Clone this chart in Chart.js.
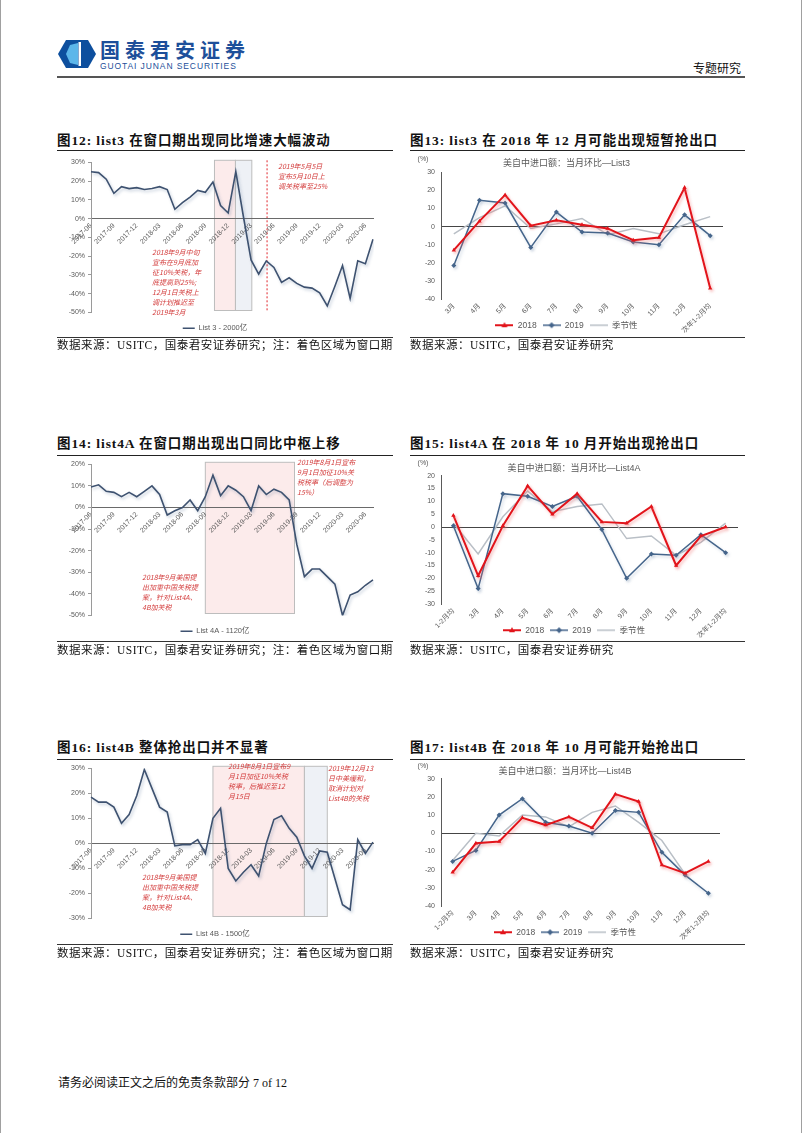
<!DOCTYPE html>
<html lang="zh-CN">
<head>
<meta charset="utf-8">
<script src="https://cdn.jsdelivr.net/npm/chart.js@4.4.1/dist/chart.umd.min.js"></script>
<style>
  html, body { margin: 0; padding: 0; background: #fff; }
  body { width: 802px; height: 1133px; position: relative; overflow: hidden;
         font-family: 'Liberation Serif', 'Noto Sans CJK SC', serif; color: #111; }
  .tepi { position: absolute; left: 0; top: 0; width: 800px; height: 1133px;
          border-left: 1px solid #a0a0a0; border-right: 1px solid #a0a0a0; }
  .abs { position: absolute; }
  .judul { font-size: 13.5px; font-weight: bold; line-height: 16px; white-space: nowrap; letter-spacing: 0.9px; }
  .garis-tebal { height: 0; border-top: 1.5px solid #222; }
  .garis-tipis { height: 0; border-top: 1px solid #333; }
  .sumber { font-size: 11.5px; line-height: 14px; white-space: nowrap; letter-spacing: 0.5px; }
  .catatan { font-family: 'Noto Sans CJK SC', sans-serif; font-size: 7px; line-height: 10px;
             color: #d33b3b; font-style: italic; white-space: nowrap; }
  canvas { position: absolute; }
</style>
</head>
<body>
<div class="tepi"></div>

<!-- kop halaman -->
<svg class="abs" style="left:57px;top:39px" width="40" height="30" viewBox="0 0 40 30">
  <polygon points="9,1 31,1 39,15 31,29 9,29 1,15" fill="#0d4f9e"/>
  <polygon points="13,6 21,4 21,26 13,24 9,15" fill="#5cb6ea"/>
  <rect x="21.5" y="3" width="2.5" height="24" fill="#fff"/>
</svg>
<div class="abs" style="left:100px;top:38px;font-family:'Noto Sans CJK SC',sans-serif;font-weight:bold;font-size:20px;letter-spacing:5px;color:#1d4f9a;line-height:24px;">国泰君安证券</div>
<div class="abs" style="left:100px;top:61px;font-family:'Liberation Sans',sans-serif;font-size:8.5px;letter-spacing:0.9px;color:#1d4f9a;line-height:10px;">GUOTAI JUNAN SECURITIES</div>
<div class="abs" style="left:693px;top:60px;font-family:'Noto Sans CJK SC',sans-serif;font-size:12px;line-height:16px;">专题研究</div>
<div class="abs" style="left:57px;top:76px;width:688px;height:0;border-top:2px solid #555;"></div>

<!-- baris 1 -->
<div class="abs judul" style="left:57px;top:133px">图12: list3 在窗口期出现同比增速大幅波动</div>
<div class="abs judul" style="left:410px;top:133px">图13: list3 在 2018 年 12 月可能出现短暂抢出口</div>
<div class="abs garis-tebal" style="left:57px;top:150px;width:336px"></div>
<div class="abs garis-tebal" style="left:410px;top:150px;width:335px"></div>
<canvas id="chartList3Yoy" width="336" height="189" style="left:57px;top:153px"></canvas>
<canvas id="chartList3Mom" width="335" height="186" style="left:410px;top:153px"></canvas>
<div class="abs catatan" style="left:278px;top:161px">2019年5月5日<br>宣布5月10日上<br>调关税率至25%</div>
<div class="abs catatan" style="left:152px;top:247px">2018年9月中旬<br>宣布在9月底加<br>征10%关税，年<br>底提高到25%;<br>12月1日关税上<br>调计划推迟至<br>2019年3月</div>
<div class="abs garis-tipis" style="left:57px;top:337px;width:336px"></div>
<div class="abs garis-tipis" style="left:410px;top:337px;width:335px"></div>
<div class="abs sumber" style="left:57px;top:338px">数据来源：USITC，国泰君安证券研究；注：着色区域为窗口期</div>
<div class="abs sumber" style="left:410px;top:338px">数据来源：USITC，国泰君安证券研究</div>

<!-- baris 2 -->
<div class="abs judul" style="left:57px;top:436px">图14: list4A 在窗口期出现出口同比中枢上移</div>
<div class="abs judul" style="left:410px;top:436px">图15: list4A 在 2018 年 10 月开始出现抢出口</div>
<div class="abs garis-tebal" style="left:57px;top:455px;width:336px"></div>
<div class="abs garis-tebal" style="left:410px;top:455px;width:335px"></div>
<canvas id="chartList4aYoy" width="336" height="188" style="left:57px;top:457px"></canvas>
<canvas id="chartList4aMom" width="335" height="186" style="left:410px;top:458px"></canvas>
<div class="abs catatan" style="left:297px;top:457px">2019年8月1日宣布<br>9月1日加征10%关<br>税税率（后调整为<br>15%）</div>
<div class="abs catatan" style="left:142px;top:572px">2018年9月美国提<br>出加重中国关税提<br>案，针对List4A、<br>4B加关税</div>
<div class="abs garis-tipis" style="left:57px;top:641px;width:336px"></div>
<div class="abs garis-tipis" style="left:410px;top:641px;width:335px"></div>
<div class="abs sumber" style="left:57px;top:643px">数据来源：USITC，国泰君安证券研究；注：着色区域为窗口期</div>
<div class="abs sumber" style="left:410px;top:643px">数据来源：USITC，国泰君安证券研究</div>

<!-- baris 3 -->
<div class="abs judul" style="left:57px;top:740px">图16: list4B 整体抢出口并不显著</div>
<div class="abs judul" style="left:410px;top:740px">图17: list4B 在 2018 年 10 月可能开始抢出口</div>
<div class="abs garis-tebal" style="left:57px;top:759px;width:336px"></div>
<div class="abs garis-tebal" style="left:410px;top:759px;width:335px"></div>
<canvas id="chartList4bYoy" width="336" height="188" style="left:57px;top:760px"></canvas>
<canvas id="chartList4bMom" width="335" height="185" style="left:410px;top:761px"></canvas>
<div class="abs catatan" style="left:228px;top:761px">2019年8月1日宣布9<br>月1日加征10%关税<br>税率，后推迟至12<br>月15日</div>
<div class="abs catatan" style="left:328px;top:763px">2019年12月13<br>日中美缓和，<br>取消计划对<br>List4B的关税</div>
<div class="abs catatan" style="left:142px;top:872px">2018年9月美国提<br>出加重中国关税提<br>案，针对List4A、<br>4B加关税</div>
<div class="abs garis-tipis" style="left:57px;top:944px;width:336px"></div>
<div class="abs garis-tipis" style="left:410px;top:944px;width:335px"></div>
<div class="abs sumber" style="left:57px;top:946px">数据来源：USITC，国泰君安证券研究；注：着色区域为窗口期</div>
<div class="abs sumber" style="left:410px;top:946px">数据来源：USITC，国泰君安证券研究</div>

<div class="abs" style="left:58px;top:1075px;font-size:12px;line-height:16px;">请务必阅读正文之后的免责条款部分 7 of 12</div>

<script>
// data bulanan, 2017-06 sampai 2020-07
const bulanSeri = [
  '2017-06', '2017-07', '2017-08', '2017-09', '2017-10', '2017-11', '2017-12',
  '2018-01', '2018-02', '2018-03', '2018-04', '2018-05', '2018-06', '2018-07', '2018-08', '2018-09', '2018-10', '2018-11', '2018-12',
  '2019-01', '2019-02', '2019-03', '2019-04', '2019-05', '2019-06', '2019-07', '2019-08', '2019-09', '2019-10', '2019-11', '2019-12',
  '2020-01', '2020-02', '2020-03', '2020-04', '2020-05', '2020-06', '2020-07'
];
// yoy (%) tiap list
const list3Yoy  = [25, 24.5, 21, 13.5, 17, 16, 16.5, 15.5, 16, 17, 15.5, 5, 8.5, 11.5, 15, 14, 19.5, 7, 3, 25, 1, -22, -29.5, -22.5, -26, -34, -31.5, -34.5, -36.5, -37, -39.5, -46.5, -36, -25, -42.5, -22.5, -24, -11];
const list4aYoy = [9.5, 10.5, 7.5, 7, 5, 7, 5, 7.5, 10, 6, -3.5, -1.5, 0, 3.5, -1.5, 5, 15, 5.5, 10, 8, 5, -1.5, 10, 6, 8.5, 7, 3.5, -17, -32, -28.5, -28.5, -32, -35.5, -50, -40.5, -39, -36, -33.5];
const list4bYoy = [18.5, 16.5, 16.5, 14.5, 8, 11.5, 19, 29.5, 22, 14.5, 12.5, -1, -0.5, -0.5, 1.5, -4, 10, 14, -10, -15, -11.5, -8.5, -13, 0, 9.5, 11, 6, 2.5, -5, -10, -3, -3.5, -14, -24.5, -26.5, 1.5, -4, 0.5];

// periode jendela (indeks bulan, boleh pecahan)
const jendelaList3Merah = [16.2, 18.95];
const jendelaList3Biru  = [18.95, 21.1];
const garisList3Tarif   = 23.1;
const jendelaList4aMerah = [15, 26.7];
const jendelaList4bMerah = [16, 28];
const jendelaList4bBiru  = [28, 31];

// data环比 bulanan
const bulanList3 = ['3月', '4月', '5月', '6月', '7月', '8月', '9月', '10月', '11月', '12月', '次年1-2月均'];
const list3Th2018   = [-13, 3, 17.5, 0.5, 3.5, 1, -1, -7.5, -6, 21.5, -34];
const list3Th2019   = [-21.5, 14.5, 13, -11.5, 8, -3, -3.5, -8.5, -10, 6.5, -5];
const list3Musiman  = [-4, 5, 11.5, -1, 1.5, 4.5, -4.5, -1, -4, 1, 5.5];

const bulanList4 = ['1-2月均', '3月', '4月', '5月', '6月', '7月', '8月', '9月', '10月', '11月', '12月', '次年1-2月均'];
const list4aTh2018  = [4.5, -19, 0.5, 16, 5, 13, 2, 1.5, 8, -15, -3.5, 0];
const list4aTh2019  = [0.5, -24, 13, 12, 8, 12, -1, -20, -10.5, -11, -3, -10];
const list4aMusiman = [1.5, -10.5, 4, 14, 6, 8, 9, -4.5, -3.5, -11, -6, 1.5];
const list4bTh2018  = [-21.5, -5.5, -4.5, 8.5, 4.5, 9, 3, 21.5, 17.5, -17.5, -22, -15.5];
const list4bTh2019  = [-15.5, -9.5, 10, 19, 6, 4, 0, 12.5, 11.5, -10.5, -23, -33];
const list4bMusiman = [-15, 0, -1.5, 10, 9, 3.5, 11.5, 15, 6, -4, -22.5, null];

Chart.defaults.font.family = "'Liberation Sans', 'Noto Sans CJK SC', sans-serif";
Chart.defaults.color = '#595959';

const warnaSeri   = '#3e5270';
const warnaMerah  = '#e2141b';
const warnaBiru   = '#45658b';
const warnaAbu    = '#b9bfc6';

// bayangan tipis di garis kayak efek excel
const pluginBayangan = {
  id: 'bayangan',
  beforeDatasetDraw(chart, args) {
    const ds = chart.data.datasets[args.index];
    if (!ds.warnaBayangan) return;
    const ctx = chart.ctx;
    ctx.save();
    ctx.shadowColor = ds.warnaBayangan;
    ctx.shadowBlur = 3;
    ctx.shadowOffsetX = 1.5;
    ctx.shadowOffsetY = 2;
  },
  afterDatasetDraw(chart, args) {
    if (chart.data.datasets[args.index].warnaBayangan) chart.ctx.restore();
  }
};

// kotak warna periode jendela + garis putus
const pluginJendela = {
  id: 'jendela',
  beforeDraw(chart, args, opts) {
    const { ctx, chartArea: area, scales: { x } } = chart;
    (opts.kotak || []).forEach(k => {
      const x0 = x.getPixelForValue(k.rentang[0]);
      const x1 = x.getPixelForValue(k.rentang[1]);
      ctx.save();
      ctx.fillStyle = k.isi;
      ctx.fillRect(x0, area.top - 2, x1 - x0, area.bottom - area.top);
      ctx.strokeStyle = '#bdbdbd';
      ctx.lineWidth = 1;
      ctx.strokeRect(x0, area.top - 2, x1 - x0, area.bottom - area.top);
      ctx.restore();
    });
    if (opts.garisPutus != null) {
      const gx = x.getPixelForValue(opts.garisPutus);
      ctx.save();
      ctx.strokeStyle = '#e0262b';
      ctx.setLineDash([2, 2]);
      ctx.lineWidth = 1;
      ctx.beginPath();
      ctx.moveTo(gx, area.top - 2);
      ctx.lineTo(gx, area.bottom - 2);
      ctx.stroke();
      ctx.restore();
    }
  }
};

// tulisan (%) di atas sumbu y
const pluginSatuan = {
  id: 'satuan',
  afterDraw(chart) {
    const { ctx, chartArea } = chart;
    ctx.save();
    ctx.font = "7px 'Liberation Sans'";
    ctx.fillStyle = '#595959';
    ctx.textAlign = 'center';
    ctx.textBaseline = 'middle';
    ctx.fillText('(%)', chartArea.left - 18, chartArea.top - 13);
    ctx.restore();
  }
};

// legenda ditaruh numpuk di bawah label sumbu x (biar label miring ga kepotong)
const pluginGeserLegenda = {
  id: 'geserLegenda',
  afterLayout(chart) {
    const lg = chart.legend;
    if (!lg) return;
    lg.top = chart.chartArea.bottom + 16;
    lg.height = 24;
    lg.bottom = lg.top + 24;
  }
};

function chartSeriWaktu(idKanvas, nilai, namaLegenda, minY, maxY, padAtas, kotak, garisPutus) {
  const el = document.getElementById(idKanvas);
  new Chart(el.getContext('2d'), {
    type: 'line',
    data: {
      labels: bulanSeri,
      datasets: [{
        label: namaLegenda,
        data: nilai,
        borderColor: warnaSeri,
        backgroundColor: warnaSeri,
        borderWidth: 1.6,
        pointRadius: 0,
        pointStyle: 'line',
        tension: 0,
        warnaBayangan: 'rgba(70,100,140,0.3)'
      }]
    },
    options: {
      responsive: false,
      animation: false,
      layout: { padding: { top: padAtas, right: 20, bottom: 0, left: 0 } },
      plugins: {
        legend: {
          position: 'bottom',
          labels: { usePointStyle: true, pointStyleWidth: 12, padding: 12, font: { size: 7.5 } }
        },
        tooltip: { enabled: false },
        jendela: { kotak: kotak, garisPutus: garisPutus }
      },
      scales: {
        x: {
          position: { y: 0 },
          offset: false,
          grid: { display: false, drawTicks: false },
          border: { color: '#6a6a6a' },
          ticks: {
            autoSkip: false, minRotation: 45, maxRotation: 45, padding: 3,
            font: { size: 7 },
            callback: function (v, i) { return i % 3 === 0 ? this.getLabelForValue(v) : ''; }
          }
        },
        y: {
          min: minY, max: maxY,
          afterFit: s => { s.width = 34; },
          grid: { drawOnChartArea: false, tickLength: 3, tickColor: '#9a9a9a' },
          border: { color: '#9a9a9a' },
          ticks: { stepSize: 10, padding: 3, font: { size: 7 }, callback: v => v + '%' }
        }
      }
    },
    plugins: [pluginJendela, pluginBayangan]
  });
}

// ikon legenda: garis + penanda
function ikonLegenda(warna, bentuk, tebal) {
  const c = document.createElement('canvas');
  c.width = 18; c.height = 8;
  const g = c.getContext('2d');
  g.strokeStyle = warna; g.fillStyle = warna; g.lineWidth = tebal;
  g.beginPath(); g.moveTo(0, 4); g.lineTo(18, 4); g.stroke();
  if (bentuk === 'segitiga') {
    g.beginPath(); g.moveTo(9, 1); g.lineTo(12, 6); g.lineTo(6, 6); g.closePath(); g.fill();
  } else if (bentuk === 'belah') {
    g.beginPath(); g.moveTo(9, 1); g.lineTo(12, 4); g.lineTo(9, 7); g.lineTo(6, 4); g.closePath(); g.fill();
  }
  return c;
}
const ikonSemua = [
  ikonLegenda(warnaMerah, 'segitiga', 2),
  ikonLegenda(warnaBiru, 'belah', 1.5),
  ikonLegenda(warnaAbu, null, 1.5)
];

function chartBulanan(idKanvas, label, d2018, d2019, dMusiman, judul, minY, maxY, langkah, padJudul, padKanan) {
  const el = document.getElementById(idKanvas);
  new Chart(el.getContext('2d'), {
    type: 'line',
    data: {
      labels: label,
      datasets: [
        { label: '2018', data: d2018, borderColor: warnaMerah, backgroundColor: warnaMerah, borderWidth: 2,
          pointStyle: 'triangle', pointRadius: 2.5, pointBorderWidth: 0, tension: 0,
          warnaBayangan: 'rgba(240,110,110,0.45)' },
        { label: '2019', data: d2019, borderColor: warnaBiru, backgroundColor: warnaBiru, borderWidth: 1.5,
          pointStyle: 'rectRot', pointRadius: 2.5, pointBorderWidth: 0, tension: 0,
          warnaBayangan: 'rgba(110,135,170,0.3)' },
        { label: '季节性', data: dMusiman, borderColor: warnaAbu, backgroundColor: warnaAbu, borderWidth: 1.5,
          pointRadius: 0, tension: 0 }
      ]
    },
    options: {
      responsive: false,
      animation: false,
      layout: { padding: { top: 0, right: padKanan, bottom: 0, left: 0 } },
      plugins: {
        title: { display: true, text: judul, color: '#595959', font: { size: 9, weight: 'normal' },
                 padding: { top: 5, bottom: padJudul } },
        legend: {
          position: 'bottom',
          maxHeight: 1,
          labels: {
            usePointStyle: true, pointStyleWidth: 18, boxHeight: 8, padding: 6, font: { size: 8.5 },
            generateLabels(chart) {
              const items = Chart.defaults.plugins.legend.labels.generateLabels(chart);
              items.forEach((it, i) => { it.pointStyle = ikonSemua[i]; });
              return items;
            }
          }
        },
        tooltip: { enabled: false }
      },
      scales: {
        x: {
          offset: true,
          afterFit: s => { s.height = 39; },
          grid: { display: false, drawTicks: false },
          border: { display: false },
          ticks: { autoSkip: false, minRotation: 45, maxRotation: 45, padding: 3, font: { size: 7 } }
        },
        y: {
          min: minY, max: maxY,
          afterFit: s => { s.width = 31; },
          grid: { color: c => c.tick.value === 0 ? '#454545' : 'rgba(0,0,0,0)', drawTicks: false },
          border: { color: '#5a5a5a' },
          ticks: { stepSize: langkah, padding: 6, font: { size: 7 } }
        }
      }
    },
    plugins: [pluginBayangan, pluginSatuan, pluginGeserLegenda]
  });
}

document.addEventListener('DOMContentLoaded', () => {
  if (typeof Chart === 'undefined') return;

  chartSeriWaktu('chartList3Yoy', list3Yoy, 'List 3 - 2000亿', -50, 30, 9.3,
    [{ rentang: jendelaList3Merah, isi: 'rgba(251,232,232,0.85)' },
     { rentang: jendelaList3Biru, isi: 'rgba(236,240,245,0.9)' }], garisList3Tarif);

  chartSeriWaktu('chartList4aYoy', list4aYoy, 'List 4A - 1120亿', -50, 20, 7.3,
    [{ rentang: jendelaList4aMerah, isi: 'rgba(251,232,232,0.85)' }], null);

  chartSeriWaktu('chartList4bYoy', list4bYoy, 'List 4B - 1500亿', -30, 30, 8.3,
    [{ rentang: jendelaList4bMerah, isi: 'rgba(251,232,232,0.85)' },
     { rentang: jendelaList4bBiru, isi: 'rgba(236,240,245,0.9)' }], null);

  chartBulanan('chartList3Mom', bulanList3, list3Th2018, list3Th2019, list3Musiman,
    '美自中进口额：当月环比—List3', -40, 30, 10, 3.5, 22);
  chartBulanan('chartList4aMom', bulanList4, list4aTh2018, list4aTh2019, list4aMusiman,
    '美自中进口额：当月环比—List4A', -30, 20, 5, 1.9, 7);
  chartBulanan('chartList4bMom', bulanList4, list4bTh2018, list4bTh2019, list4bMusiman,
    '美自中进口额：当月环比—List4B', -40, 30, 10, 1.9, 25);
});
</script>
</body>
</html>
